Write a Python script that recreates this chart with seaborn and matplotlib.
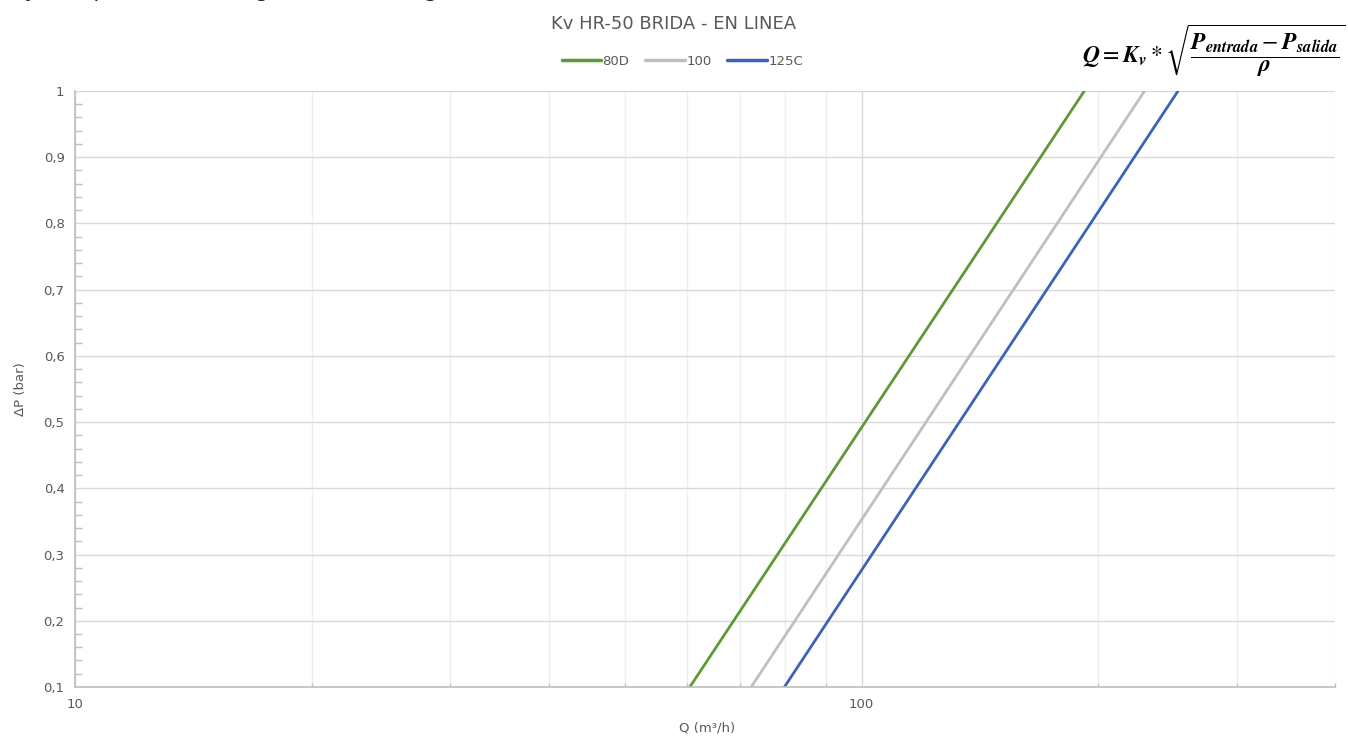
"""Curvas de pérdida de carga Kv HR-50 BRIDA - EN LINEA (eje Q logarítmico)."""

import matplotlib
matplotlib.use("Agg")
import matplotlib.pyplot as plt
import matplotlib.ticker as mticker
import pandas as pd
import seaborn as sns

# valores: caudal Q (m3/h) en los extremos de cada recta
dp_bar = [0.1, 1.0]
q_80d = [60.5, 192.0]
q_100 = [72.4, 229.0]
q_125c = [79.8, 252.6]
series = ["80D", "100", "125C"]
colores = ["#5b9a37", "#bfbfbf", "#3d63b4"]

y_ticks = [0.1, 0.2, 0.3, 0.4, 0.5, 0.6, 0.7, 0.8, 0.9, 1.0]
x_ticks = [10, 100]


def main():
    df = pd.DataFrame({
        "Q": q_80d + q_100 + q_125c,
        "dP": dp_bar * 3,
        "Valvula": [s for s in series for _ in dp_bar],
    })

    sns.set_style("white")
    plt.rcParams["font.family"] = ["DejaVu Sans"]
    plt.rcParams["mathtext.fontset"] = "stix"

    fig = plt.figure(figsize=(13.48, 7.36), dpi=100)
    ax = fig.add_axes([0.0556, 0.0666, 0.9348, 0.8098])

    sns.lineplot(data=df, x="Q", y="dP", hue="Valvula", palette=colores,
                 hue_order=series, linewidth=2.0, ax=ax, legend=True,
                 estimator=None, sort=False)

    ax.set_xscale("log")
    ax.set_xlim(10, 400)
    ax.set_ylim(0.1, 1.0)

    gris_txt = "#595959"
    ax.set_yticks(y_ticks)
    ax.yaxis.set_major_formatter(mticker.FuncFormatter(
        lambda v, p: ("%g" % v).replace(".", ",")))
    ax.yaxis.set_minor_locator(mticker.MultipleLocator(0.02))
    ax.set_xticks(x_ticks)
    ax.xaxis.set_major_formatter(mticker.FuncFormatter(lambda v, p: "%d" % v))
    ax.xaxis.set_minor_locator(mticker.LogLocator(base=10, subs=range(2, 10)))
    ax.xaxis.set_minor_formatter(mticker.NullFormatter())

    ax.tick_params(axis="both", which="major", labelsize=9.5, colors="#bfbfbf",
                   labelcolor=gris_txt, direction="out", length=4, width=1)
    ax.tick_params(axis="y", which="minor", direction="in", length=5,
                   color="#bfbfbf", width=1, left=True)
    ax.tick_params(axis="x", which="minor", direction="in", length=3,
                   color="#bfbfbf", width=1, bottom=True)
    ax.tick_params(axis="x", which="major", pad=4)

    ax.grid(True, which="major", axis="y", color="#d9d9d9", linewidth=1)
    ax.grid(True, which="major", axis="x", color="#d9d9d9", linewidth=1)
    ax.grid(True, which="minor", axis="x", color="#efefef", linewidth=1)

    for lado in ["top", "right"]:
        ax.spines[lado].set_visible(False)
    for lado in ["left", "bottom"]:
        ax.spines[lado].set_color("#bfbfbf")
        ax.spines[lado].set_linewidth(1.2)

    ax.set_xlabel("Q (m³/h)", fontsize=9.5, color=gris_txt)
    ax.set_ylabel("ΔP (bar)", fontsize=9.5, color=gris_txt, labelpad=12)
    ax.xaxis.set_label_coords(0.502, -0.058)

    leg = ax.legend(loc="center", bbox_to_anchor=(0.482, 1.05), ncol=3,
                    frameon=False, fontsize=9.5, handlelength=3.0,
                    handletextpad=0.1, columnspacing=1.2)
    for txt in leg.get_texts():
        txt.set_color(gris_txt)
    for ln in leg.get_lines():
        ln.set_linewidth(2.5)

    fig.text(0.5, 0.968, "Kv HR-50 BRIDA - EN LINEA", ha="center", va="center",
             fontsize=13, color=gris_txt)
    # línea de texto del documento original, recortada por arriba
    fig.text(0.008, 1.013, "ayo de pérdida de carga realizado según norma UNE-EN 1267",
             ha="left", va="center", fontsize=16, color="#222222")
    fig.text(0.803, 0.932,
             r"$\mathbfit{Q} = \mathbfit{K_v} * \sqrt{\dfrac{\mathbfit{P_{entrada}} - \mathbfit{P_{salida}}}{\mathbfit{\rho}}}$",
             ha="left", va="center", fontsize=17, color="black")

    fig.savefig("out.png", dpi=100)
    plt.close(fig)


if __name__ == "__main__":
    main()
